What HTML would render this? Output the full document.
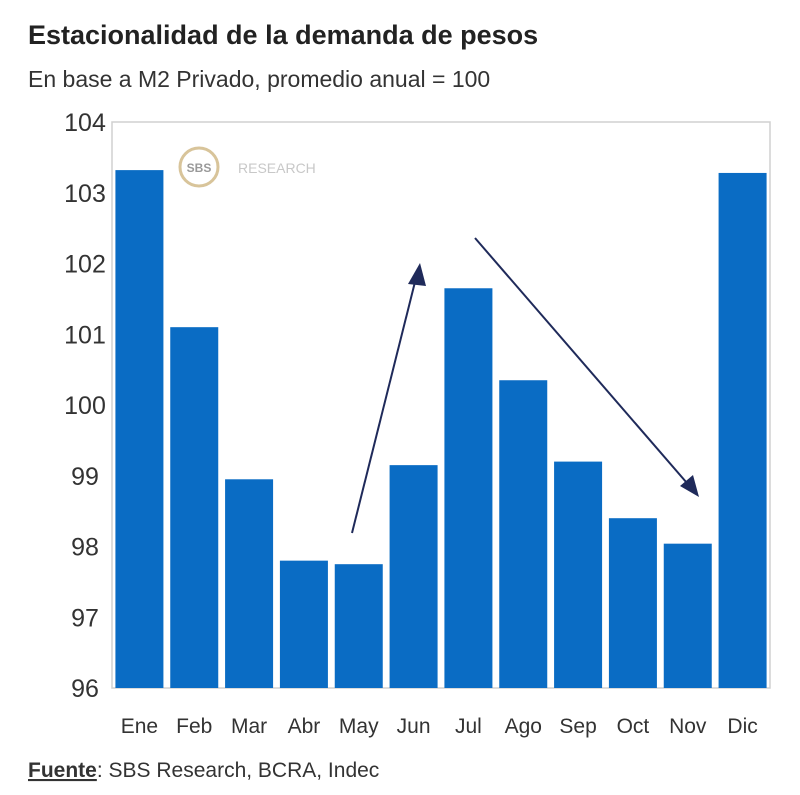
<!DOCTYPE html>
<html><head><meta charset="utf-8"><style>
body{margin:0;background:#fff;font-family:"Liberation Sans",sans-serif;}
svg text{font-family:"Liberation Sans",sans-serif;}
</style></head><body>
<svg id="chart" width="800" height="790" viewBox="0 0 800 790">
<text x="28" y="44" font-size="27" font-weight="bold" fill="#222">Estacionalidad de la demanda de pesos</text>
<text x="28" y="87" font-size="23" fill="#333">En base a M2 Privado, promedio anual = 100</text>
<rect x="112" y="122" width="658" height="566" fill="none" stroke="#d0d0d0" stroke-width="1.5"/>
<g>
<circle cx="199" cy="167" r="19" fill="#fff" stroke="#d8c49a" stroke-width="3"/>
<text x="199" y="172" font-size="12" fill="#999" text-anchor="middle" font-weight="bold">SBS</text>
<text x="238" y="173" font-size="14" fill="#c8c8c8">RESEARCH</text>
</g>
<g id="yaxis"></g><g id="bars"></g><g id="xaxis"></g>
<defs><marker id="ah" markerWidth="10" markerHeight="10" refX="8" refY="5" orient="auto" markerUnits="userSpaceOnUse"><path d="M0,0 L10,5 L0,10 Z" fill="#1f2a5a" transform="scale(1.6) translate(-3,-2)"/></marker></defs>
<line x1="352" y1="533" x2="418" y2="270" stroke="#1f2a5a" stroke-width="2"/>
<polygon points="420,263 408,284 426,286" fill="#1f2a5a"/>
<line x1="475" y1="238" x2="693" y2="490" stroke="#1f2a5a" stroke-width="2"/>
<polygon points="699,497 680,486 693,475" fill="#1f2a5a"/>
<text x="28" y="777" font-size="21" fill="#333"><tspan font-weight="bold" text-decoration="underline">Fuente</tspan>: SBS Research, BCRA, Indec</text>
</svg>
<script>
const categories=["Ene","Feb","Mar","Abr","May","Jun","Jul","Ago","Sep","Oct","Nov","Dic"];
const values=[103.32,101.1,98.95,97.8,97.75,99.15,101.65,100.35,99.2,98.4,98.04,103.28];
const yTicks=[96,97,98,99,100,101,102,103,104];
const ns="http://www.w3.org/2000/svg";
const L=112,R=770,T=122,B=688,yMin=96,yMax=104;
const y=v=>B-(v-yMin)/(yMax-yMin)*(B-T);
const step=(R-L)/categories.length;
const x=i=>L+i*step;
const bw=48;
const ya=document.getElementById('yaxis'),bg=document.getElementById('bars'),xa=document.getElementById('xaxis');
yTicks.forEach(t=>{const e=document.createElementNS(ns,'text');
e.setAttribute('x',85);e.setAttribute('y',y(t)+9);e.setAttribute('font-size','25');e.setAttribute('fill','#333');e.setAttribute('text-anchor','middle');


e.textContent=t;ya.appendChild(e);});
categories.forEach((c,i)=>{const r=document.createElementNS(ns,'rect');
const cx=x(i)+step/2;
r.setAttribute('x',cx-bw/2);r.setAttribute('y',y(values[i]));r.setAttribute('width',bw);r.setAttribute('height',B-y(values[i]));r.setAttribute('fill','#0a6cc4');


bg.appendChild(r);
const e=document.createElementNS(ns,'text');
e.setAttribute('x',cx);e.setAttribute('y',733);e.setAttribute('font-size','21');e.setAttribute('fill','#333');e.setAttribute('text-anchor','middle');


e.textContent=c;xa.appendChild(e);});
</script>
</body></html>
